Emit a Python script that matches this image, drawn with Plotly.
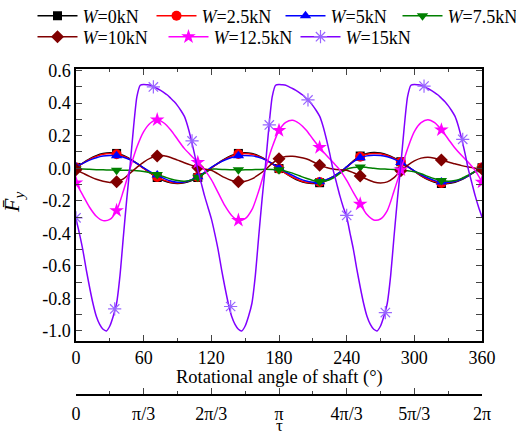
import plotly.graph_objects as go

# ---------------- data ----------------
ANGLES = list(range(0, 361, 6))          # line sample angles (deg)
PURPLE_ANGLES = list(range(0, 361, 3))   # finer sampling for W=15kN
MARKER_ANGLES = [0, 36, 72, 108, 144, 180, 216, 252, 288, 324, 360]
PURPLE_MARKER_ANGLES = [0, 34.3, 68.6, 102.9, 137.1, 171.4, 205.7, 240, 274.3, 308.6, 342.9]

W0 = [0.005, 0.032, 0.057, 0.077, 0.090, 0.095, 0.091, 0.078, 0.057, 0.030,
      0.000, -0.030, -0.057, -0.077, -0.090, -0.094, -0.090, -0.077, -0.057, -0.030,
      0.002, 0.032, 0.058, 0.078, 0.091, 0.095, 0.090, 0.076, 0.055, 0.028,
      -0.002, -0.032, -0.058, -0.078, -0.090, -0.094, -0.089, -0.075, -0.054, -0.027,
      0.008, 0.045, 0.075, 0.090, 0.096, 0.093, 0.082, 0.064, 0.040, 0.012,
      -0.018, -0.047, -0.070, -0.086, -0.094, -0.094, -0.086, -0.070, -0.047, -0.020,
      0.003]
W25 = [0.005, 0.030, 0.054, 0.073, 0.086, 0.090, 0.086, 0.074, 0.054, 0.028,
       -0.001, -0.029, -0.054, -0.073, -0.086, -0.090, -0.086, -0.073, -0.054, -0.028,
       0.002, 0.030, 0.055, 0.074, 0.087, 0.091, 0.086, 0.073, 0.053, 0.026,
       -0.003, -0.031, -0.055, -0.074, -0.086, -0.090, -0.085, -0.072, -0.052, -0.026,
       0.006, 0.042, 0.071, 0.086, 0.091, 0.089, 0.078, 0.060, 0.038, 0.011,
       -0.018, -0.045, -0.067, -0.082, -0.090, -0.090, -0.082, -0.067, -0.045, -0.019,
       0.004]
W5 = [0.008, 0.030, 0.050, 0.065, 0.075, 0.078, 0.076, 0.068, 0.052, 0.030,
      0.002, -0.022, -0.042, -0.062, -0.078, -0.086, -0.084, -0.072, -0.053, -0.025,
      0.006, 0.030, 0.051, 0.066, 0.076, 0.079, 0.076, 0.067, 0.051, 0.029,
      0.001, -0.023, -0.044, -0.064, -0.079, -0.086, -0.083, -0.071, -0.051, -0.024,
      0.008, 0.040, 0.064, 0.076, 0.080, 0.078, 0.070, 0.056, 0.036, 0.010,
      -0.016, -0.040, -0.060, -0.076, -0.085, -0.086, -0.080, -0.066, -0.045, -0.018,
      0.006]
W75 = [-0.004, -0.005, -0.007, -0.009, -0.010, -0.011, -0.012, -0.012, -0.013, -0.015,
       -0.020, -0.028, -0.038, -0.052, -0.066, -0.076, -0.080, -0.073, -0.056, -0.030,
       -0.006, -0.006, -0.008, -0.009, -0.010, -0.010, -0.009, -0.008, -0.007, -0.008,
       -0.010, -0.018, -0.030, -0.046, -0.062, -0.075, -0.082, -0.077, -0.060, -0.032,
       -0.006, 0.004, 0.008, 0.005, 0.000, -0.004, -0.006, -0.008, -0.010, -0.015,
       -0.022, -0.034, -0.050, -0.065, -0.075, -0.080, -0.076, -0.062, -0.042, -0.020,
       -0.005]
W10 = [-0.010, -0.030, -0.050, -0.068, -0.080, -0.087, -0.083, -0.066, -0.030, 0.005,
       0.038, 0.062, 0.075, 0.077, 0.066, 0.050, 0.034, 0.019, 0.005, -0.005,
       -0.012, -0.035, -0.058, -0.075, -0.083, -0.080, -0.065, -0.040, -0.008, 0.030,
       0.058, 0.072, 0.074, 0.068, 0.058, 0.040, 0.018, 0.005, -0.005, -0.010,
       -0.012, -0.028, -0.048, -0.068, -0.084, -0.090, -0.084, -0.058, -0.015, 0.018,
       0.045, 0.062, 0.068, 0.062, 0.050, 0.038, 0.027, 0.016, 0.007, 0.000,
       -0.005]
W125 = [-0.090, -0.165, -0.240, -0.295, -0.322, -0.315, -0.260, -0.140, 0.000, 0.130,
        0.225, 0.278, 0.298, 0.278, 0.235, 0.178, 0.122, 0.078, 0.036, -0.010,
        -0.070, -0.150, -0.230, -0.290, -0.320, -0.310, -0.255, -0.140, 0.000, 0.130,
        0.232, 0.282, 0.295, 0.275, 0.235, 0.180, 0.128, 0.080, 0.035, -0.010,
        -0.075, -0.150, -0.220, -0.285, -0.318, -0.312, -0.260, -0.140, -0.010, 0.120,
        0.225, 0.280, 0.298, 0.280, 0.236, 0.180, 0.125, 0.078, 0.035, -0.015,
        -0.085]
W15 = [-0.31, -0.40, -0.50, -0.62, -0.73, -0.83, -0.91, -0.96, -0.99, -1.00,
       -0.97, -0.91, -0.83, -0.66, -0.42, -0.19, 0.02, 0.25, 0.44, 0.51,
       0.515, 0.513, 0.51, 0.50, 0.49, 0.478, 0.465, 0.45, 0.43, 0.41,
       0.385, 0.355, 0.32, 0.26, 0.18, 0.09, -0.01, -0.09, -0.17, -0.24,
       -0.31, -0.40, -0.50, -0.62, -0.73, -0.83, -0.91, -0.96, -0.99, -1.00,
       -0.97, -0.91, -0.83, -0.66, -0.42, -0.19, 0.02, 0.25, 0.44, 0.51,
       0.515, 0.513, 0.51, 0.50, 0.49, 0.478, 0.465, 0.45, 0.43, 0.41,
       0.385, 0.355, 0.32, 0.26, 0.18, 0.09, -0.01, -0.09, -0.17, -0.24,
       -0.30, -0.40, -0.50, -0.62, -0.73, -0.83, -0.91, -0.96, -0.99, -1.00,
       -0.97, -0.91, -0.83, -0.66, -0.42, -0.19, 0.02, 0.25, 0.44, 0.51,
       0.515, 0.513, 0.51, 0.50, 0.49, 0.478, 0.465, 0.45, 0.43, 0.41,
       0.385, 0.355, 0.32, 0.26, 0.18, 0.09, -0.01, -0.09, -0.17, -0.24,
       -0.30]
W15_MARKERS = [-0.305, -0.865, 0.50, 0.168, -0.85, 0.266, 0.42, -0.29, -0.887, 0.505, 0.178]

X_TICKS = [0, 60, 120, 180, 240, 300, 360]
TAU_TICKTEXT = ["0", "π/3", "2π/3", "π", "4π/3", "5π/3", "2π"]
Y_TICKS = [-1.0, -0.8, -0.6, -0.4, -0.2, 0.0, 0.2, 0.4, 0.6]

SERIES = [
    ("<i>W</i>=0kN", W0, "#000000", "square", 9),
    ("<i>W</i>=2.5kN", W25, "#ff0000", "circle", 10),
    ("<i>W</i>=5kN", W5, "#0000ff", "triangle-up", 10),
    ("<i>W</i>=7.5kN", W75, "#008000", "triangle-down", 10),
    ("<i>W</i>=10kN", W10, "#800000", "diamond", 10),
    ("<i>W</i>=12.5kN", W125, "#ff00ff", "star", 11),
]

FONT = "Liberation Serif, Times New Roman, Times, serif"
FS = 18
W, H = 516, 435
ml, mr, mt, mb = 76, 34, 69, 40
plot_h = H - mt - mb
ydom0 = (395 - 341) / plot_h

# legend item marker centres (px) and row centres (px)
LEG_POS = [(57, 16), (176, 16), (305, 16), (422, 16), (57, 37), (188, 37), (320, 37)]
LEG_MARKER_OFFSET = 24.5

fig = go.Figure()

marker_idx = [ANGLES.index(a) for a in MARKER_ANGLES]
for i, (name, vals, color, sym, size) in enumerate(SERIES):
    lg = "legend" if i == 0 else f"legend{i + 1}"
    fig.add_trace(go.Scatter(x=ANGLES, y=vals, mode="lines",
                             line=dict(color=color, width=1.5, shape="spline", smoothing=0.8),
                             showlegend=False, hoverinfo="skip"))
    fig.add_trace(go.Scatter(x=MARKER_ANGLES, y=[vals[k] for k in marker_idx], mode="markers",
                             marker=dict(color=color, symbol=sym, size=size),
                             showlegend=False, hoverinfo="skip"))
    fig.add_trace(go.Scatter(x=[None], y=[None], mode="lines+markers", name=name,
                             line=dict(color=color, width=1.5),
                             marker=dict(color=color, symbol=sym, size=size),
                             legend=lg))

# W = 15 kN
PURPLE = "#8000ff"
PURPLE_MK = "#9966ff"
fig.add_trace(go.Scatter(x=PURPLE_ANGLES, y=W15, mode="lines",
                         line=dict(color=PURPLE, width=1.5, shape="spline", smoothing=0.6),
                         showlegend=False, hoverinfo="skip"))
fig.add_trace(go.Scatter(x=PURPLE_MARKER_ANGLES, y=W15_MARKERS, mode="markers",
                         marker=dict(symbol="asterisk-open", size=11, color=PURPLE_MK,
                                     line=dict(color=PURPLE_MK, width=1.2)),
                         showlegend=False, hoverinfo="skip"))
fig.add_trace(go.Scatter(x=[None], y=[None], mode="lines+markers", name="<i>W</i>=15kN",
                         line=dict(color=PURPLE, width=1.5),
                         marker=dict(symbol="asterisk-open", size=11, color=PURPLE_MK,
                                     line=dict(color=PURPLE_MK, width=1.2)),
                         legend="legend7"))

# dummy trace for the secondary (tau) axis
fig.add_trace(go.Scatter(x=[0, 360], y=[None, None], xaxis="x2", yaxis="y",
                         mode="lines", showlegend=False, hoverinfo="skip"))

tickfont = dict(family=FONT, size=FS, color="black")
legends = {}
for i, (cx, cy) in enumerate(LEG_POS):
    key = "legend" if i == 0 else f"legend{i + 1}"
    legends[key] = dict(orientation="h", xref="container", yref="container",
                        x=(cx - LEG_MARKER_OFFSET) / W, y=1 - cy / H,
                        xanchor="left", yanchor="middle", itemwidth=40,
                        bgcolor="rgba(0,0,0,0)", font=dict(family=FONT, size=FS, color="black"))

fig.update_layout(
    width=W, height=H,
    margin=dict(l=ml, r=mr, t=mt, b=mb, autoexpand=False),
    paper_bgcolor="white", plot_bgcolor="white",
    font=dict(family=FONT, size=FS, color="black"),
    xaxis=dict(range=[0, 360], tickvals=X_TICKS, ticks="inside", ticklen=6, tickwidth=1.2,
               minor=dict(dtick=30, tick0=0, ticks="inside", ticklen=3, tickwidth=1.2),
               showline=True, linewidth=1.5, linecolor="black", mirror="allticks",
               showgrid=False, zeroline=False, tickfont=tickfont, anchor="y"),
    yaxis=dict(range=[-1.062, 0.61], domain=[ydom0, 1], tickvals=Y_TICKS,
               ticktext=[f"{v:.1f}" for v in Y_TICKS],
               ticks="inside", ticklen=6, tickwidth=1.2,
               minor=dict(dtick=0.1, tick0=0, ticks="inside", ticklen=3, tickwidth=1.2),
               showline=True, linewidth=1.5, linecolor="black", mirror="allticks",
               showgrid=False, zeroline=False, tickfont=tickfont),
    xaxis2=dict(overlaying="x", anchor="free", position=0, side="bottom", range=[0, 360],
                tickvals=X_TICKS, ticktext=TAU_TICKTEXT, ticks="inside", ticklen=6, tickwidth=1.2,
                minor=dict(dtick=30, tick0=0, ticks="inside", ticklen=3, tickwidth=1.2),
                showline=True, linewidth=1.5, linecolor="black", ticklabelstandoff=3,
                showgrid=False, zeroline=False, tickfont=tickfont),
    annotations=[
        dict(text="Rotational angle of shaft (°)", xref="paper", yref="paper",
             x=0.5, y=(395 - 377) / plot_h, showarrow=False, xanchor="center", yanchor="middle",
             font=dict(family=FONT, size=18.5)),
        dict(text="τ", xref="x", yref="paper", x=180, y=(395 - 425) / plot_h,
             showarrow=False, xanchor="center", yanchor="middle",
             font=dict(family=FONT, size=17)),
        dict(text="<i>F̄<sub>y</sub></i>", xref="paper", yref="paper",
             x=(13 - ml) / (W - ml - mr), y=ydom0 + (1 - ydom0) * (1 - (203 - mt) / (341 - mt)),
             textangle=-90, showarrow=False, xanchor="center", yanchor="middle",
             font=dict(family=FONT, size=22)),
    ],
    **legends,
)

fig.write_html("out.html", config={"displayModeBar": False},
               post_script="document.body.style.margin='0';document.body.style.padding='0';")
